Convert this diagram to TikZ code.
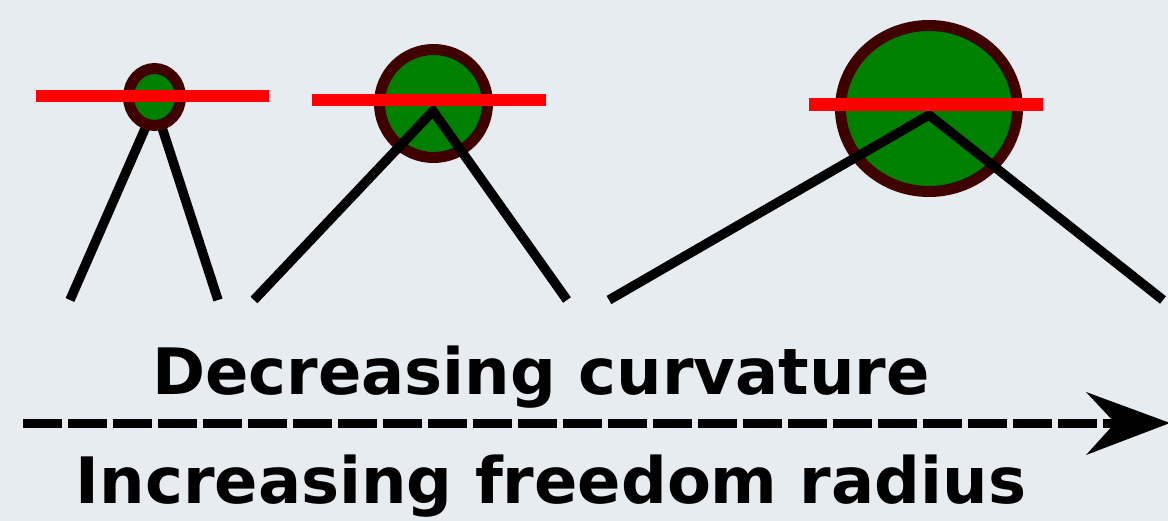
\documentclass[tikz,border=0pt]{standalone}
\usepackage{fontspec}
\setmainfont{DejaVu Sans}
\usetikzlibrary{arrows.meta}
\definecolor{bg}{HTML}{E7ECF1}
\definecolor{ring}{HTML}{400000}
\definecolor{ballgreen}{HTML}{008000}
\tikzset{
  leg/.style={line width=9.5pt, black},
  ball/.style={draw=ring, fill=ballgreen, line width=11pt},
  bar/.style={draw=red, line width=12.5pt},
  lbl/.style={font=\bfseries\fontsize{64}{72}\selectfont, inner sep=0pt, anchor=base}
}
\begin{document}
\begin{tikzpicture}[x=1pt,y=-1pt]
\fill[bg] (0,0) rectangle (1168,521);
\useasboundingbox (0,0) rectangle (1168,521);
% small
\coordinate (a1) at (155,106);
\coordinate (l1) at (70,300);
\coordinate (r1) at (218,300);
\draw[leg] (l1) -- (a1) -- (r1);
\draw[ball] (154.5,97) ellipse [x radius=26, y radius=28.5];
\coordinate (s1) at (36,96);
\coordinate (e1) at (269,96);
\draw[bar] (s1) -- (e1);
% medium
\draw[ball] (433.5,103.5) ellipse [x radius=54, y radius=54];
\coordinate (a2) at (433,111);
\coordinate (l2) at (254,300);
\coordinate (r2) at (567,300);
\draw[leg] (l2) -- (a2) -- (r2);
\coordinate (s2) at (312,100);
\coordinate (e2) at (546,100);
\draw[bar] (s2) -- (e2);
% large
\draw[ball] (929,108.5) ellipse [x radius=88.5, y radius=83];
\coordinate (a3) at (929,115);
\coordinate (l3) at (609,300);
\coordinate (r3) at (1163,300);
\draw[leg] (l3) -- (a3) -- (r3);
\coordinate (s3) at (809,104.5);
\coordinate (e3) at (1043,104.5);
\draw[bar] (s3) -- (e3);
% arrow
\coordinate (as) at (23,423);
\coordinate (ae) at (1115,423);
\draw[line width=9pt, dash pattern=on 39pt off 6pt] (as) -- (ae);
\coordinate (tip) at (1170,423);
\fill[black] (tip) -- (1086,392) -- (1115,423) -- (1086,455) -- cycle;
\node[lbl] (t1) at (541,395) {Decreasing curvature};
\node[lbl] (t2) at (551,503) {Increasing freedom radius};
\end{tikzpicture}
\end{document}
